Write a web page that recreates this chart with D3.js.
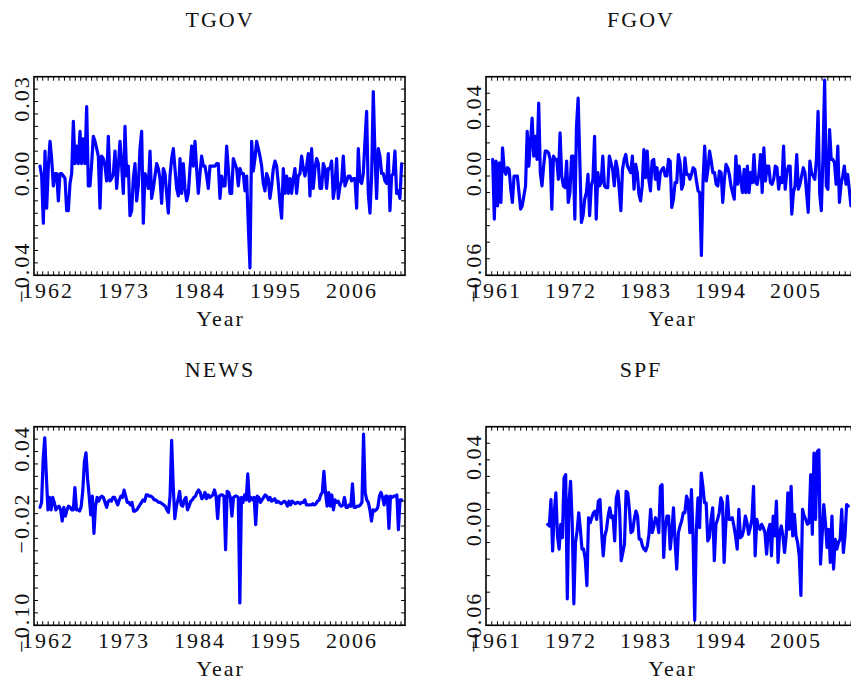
<!DOCTYPE html>
<html>
<head>
<meta charset="utf-8">
<script src="https://cdn.jsdelivr.net/npm/d3@7/dist/d3.min.js"></script>
<style>
  html, body { margin: 0; padding: 0; background: #ffffff; }
  svg { display: block; }
  text { font-family: "Liberation Serif", "Times New Roman", serif; font-size: 22px; letter-spacing: 2px; fill: #111; }
</style>
</head>
<body>
<svg id="chart" width="851" height="682"></svg>
<script>
// Quarterly shock series, evenly spaced over each sample span
const tgov = [
  .004,0,-.019,.010,-.013,.004,.014,.007,-.004,.001,.001,-.010,.001,.001,0,-.001,-.014,-.014,-.003,.001,
  .022,.005,.012,.005,.018,.005,.015,.005,.028,-.004,-.004,.005,.016,.014,.011,.008,-.013,.008,.007,.004,
  -.002,.016,-.002,-.001,.001,.010,-.005,.004,.014,.004,-.007,.020,0,.004,-.016,-.014,-.001,.005,-.010,-.004,
  .011,.018,-.019,.001,-.001,-.005,.010,-.009,-.005,0,.005,.003,-.001,-.011,.003,.001,-.007,-.015,0,.007,
  .011,.003,-.005,-.008,.007,-.007,.005,-.005,-.010,-.007,.003,.012,.004,.014,.003,-.007,.001,.008,.004,.004,
  0,-.005,.004,.004,.004,.004,.005,.005,-.009,0,-.004,-.004,.012,.003,-.007,-.007,.007,.005,.003,-.004,
  .003,.001,.001,-.006,0,-.020,-.037,.014,.002,.007,.014,.011,.008,.004,-.003,-.006,.001,-.001,-.009,-.004,
  .003,.006,.004,-.003,-.011,-.017,.003,-.007,0,-.007,-.001,-.007,-.001,.003,-.007,0,.001,.008,.003,0,
  .004,.009,-.008,.011,-.005,.003,.007,.005,-.005,-.005,.005,.003,-.005,.003,.003,.006,-.009,-.004,.007,-.009,
  -.004,-.002,.008,-.004,-.002,0,0,-.002,-.001,-.001,-.013,.011,-.002,-.003,.001,.014,.026,-.007,-.015,0,
  .034,.009,-.009,.011,.008,.001,.001,-.002,-.003,.009,-.014,0,.001,.010,-.007,-.006,-.009,.005
];

const fgov = [
  .010,-.026,.009,-.018,.008,-.016,.017,.004,.001,.005,.004,-.008,-.016,0,0,0,-.010,-.020,-.018,-.012,
  -.006,.027,.006,.020,.035,.012,.024,.010,.044,.002,-.006,.006,.015,.015,.014,.010,-.020,.012,.010,.010,
  -.002,.026,0,-.006,-.007,.009,-.016,-.010,.012,.012,-.026,.030,.047,.010,-.028,-.024,-.014,-.010,.001,-.024,
  -.006,-.002,.024,-.026,.002,-.006,-.004,.012,-.006,-.007,-.007,.012,.008,.004,-.006,.009,.004,-.008,-.021,.004,
  .010,.013,.006,.004,.002,.012,-.008,.007,.002,-.011,-.015,-.006,.016,-.001,.015,-.002,-.009,.009,.010,-.002,
  .005,-.008,.002,.004,.005,0,0,.010,.009,-.019,-.014,-.004,-.004,.013,.008,-.008,-.005,.011,.001,.001,
  -.002,.001,.005,.004,-.003,-.009,-.010,-.048,-.003,.018,-.003,.004,.015,.009,.002,.002,-.005,-.006,.003,.002,
  -.016,-.002,.007,.005,.001,-.006,-.010,-.014,.012,-.005,.006,-.003,-.010,.004,-.010,.006,-.010,.002,-.004,.013,
  -.004,-.005,.001,.013,-.010,.017,-.003,.006,.006,-.004,-.005,-.002,.006,.005,-.008,-.001,-.004,.018,-.008,.002,
  .006,.006,-.023,-.010,-.006,.013,-.008,-.005,0,.005,.002,-.010,-.022,.009,.002,0,-.002,.010,.039,-.011,
  -.021,.012,.058,-.006,-.008,.028,.010,.010,.008,-.005,.018,-.016,-.005,0,.006,-.005,.001,-.008,-.018
];

const news = [
  -.005,-.001,.034,.051,.020,-.007,.003,-.007,.003,-.001,-.007,-.005,-.004,-.007,-.016,-.005,-.012,-.007,-.004,-.005,
  -.007,-.007,.011,-.007,-.007,-.008,-.004,.009,.032,.039,.018,.004,-.011,.004,-.026,-.004,.003,0,.003,.004,
  .003,-.001,-.005,0,.001,0,.003,.003,0,-.003,.001,.004,.003,.009,.004,-.001,-.001,-.003,-.001,-.008,
  -.008,-.007,-.005,-.003,-.001,.001,0,.005,.005,.004,.004,.003,.001,.001,0,-.001,-.001,-.002,-.003,-.004,
  -.007,-.009,.004,.049,.012,-.014,-.004,.001,.008,-.003,-.004,.001,.003,-.007,-.004,0,.001,.003,.004,.007,
  .009,.007,.002,.003,.007,.002,.005,.003,.004,.005,.009,.004,-.014,.004,.005,.005,.004,-.039,.008,.007,
  .003,-.012,.003,.004,.004,.003,-.082,.003,-.001,.005,.001,.022,0,.003,.001,.003,-.019,.004,.003,-.001,
  .001,.003,.005,.004,.001,.003,0,.001,.002,-.001,0,-.001,-.002,-.001,0,-.001,-.004,0,-.003,0,
  -.001,-.002,-.001,-.001,-.002,-.001,-.001,.001,-.003,-.003,-.003,-.003,-.002,-.003,-.002,0,.001,.005,.007,.024,
  .007,-.004,.007,-.004,.005,-.007,.001,-.001,0,-.003,-.004,-.003,.003,-.005,-.005,-.003,-.004,.014,-.005,-.005,
  -.004,-.004,-.003,-.001,.054,.007,.001,-.001,-.007,-.016,-.007,-.008,-.007,-.005,.004,.007,.003,-.003,.004,.004,
  -.022,.004,.003,.004,.004,.005,-.023,.001,.001
];

const spf = [
  .001,0,.016,-.015,.008,.020,-.006,-.014,.001,-.007,.029,.031,-.044,.014,.027,.002,-.047,-.010,-.003,.008,
  -.002,-.014,-.014,-.020,-.036,.005,.002,.005,.008,.009,.004,.015,.016,-.004,-.018,-.006,-.002,.006,.011,.005,
  .006,-.009,.017,.021,.010,-.021,-.016,-.011,.021,.020,.010,-.004,-.003,.004,.009,.006,-.008,-.008,-.012,-.014,
  -.015,-.012,-.005,.010,-.004,0,.005,.003,-.004,.024,.025,-.019,-.001,.006,.006,-.014,-.004,.011,-.010,-.026,
  -.004,0,.003,.008,.008,.018,.015,-.004,.022,-.008,-.057,-.002,.017,-.001,.032,.024,.014,.014,-.009,-.007,
  .004,.011,-.021,.001,.004,.008,.017,.014,-.022,0,.018,.004,.004,.005,0,-.006,-.014,.010,-.007,-.006,
  -.002,.006,.002,-.005,-.001,.004,.024,-.018,.004,-.001,-.002,.001,-.001,-.004,-.017,-.003,.001,-.018,.006,-.006,
  .015,-.022,-.004,0,-.006,-.016,-.006,.020,-.002,.024,-.006,.007,-.006,-.010,-.018,-.042,.010,.006,.004,.001,
  .002,.031,-.005,.044,.004,.045,.046,-.023,-.006,.013,.002,-.013,-.002,-.022,.006,-.026,-.008,-.014,-.010,-.008,
  .010,-.016,-.006,.013,.012
];

// First and last observation of each sample, in decimal years
const tgovSpan = [1960.99, 2013.33];
const fgovSpan = [1960.66, 2013.21];
const newsSpan = [1960.99, 2013.33];
const spfSpan  = [1968.73, 2012.82];

// Year tick labels
const yearLabelsLeft  = [1962, 1973, 1984, 1995, 2006];
const yearLabelsRight = [1961, 1972, 1983, 1994, 2005];

// Value labels on the vertical axes
const tgovYLabels = [[0.03, "0.03"], [0, "0.00"], [-0.04, "\u22120.04"]];
const fgovYLabels = [[0.04, "0.04"], [0, "0.00"], [-0.06, "\u22120.06"]];
const newsYLabels = [[0.04, "0.04"], [-0.02, "\u22120.02"], [-0.10, "\u22120.10"]];
const spfYLabels  = [[0.04, "0.04"], [0, "0.00"], [-0.06, "\u22120.06"]];

// ---- layout ----
const BOX_W = 371, BOX_H = 198.6, TICK = 4;
const LINE_COLOR = "#0000ff";

const panels = [
  { title: "TGOV", values: tgov, span: tgovSpan, left: 34,  top: 76.7,
    xDomain: [1960.12, 2013.82], years: yearLabelsLeft, xMinorStart: 1960.6, xMinorStep: 11 / 14,
    yDomain: [-0.04, 0.04], yStep: 0.005, yLabels: tgovYLabels, titleX: 219 },
  { title: "FGOV", values: fgov, span: fgovSpan, left: 486, top: 76.7,
    xDomain: [1959.68, 2014.1], years: yearLabelsRight, xMinorStart: 1960.52, xMinorStep: 0.85,
    yDomain: [-0.06, 0.06], yStep: 0.01, yLabels: fgovYLabels, titleX: 640 },
  { title: "NEWS", values: news, span: newsSpan, left: 34,  top: 426.7,
    xDomain: [1960.12, 2013.82], years: yearLabelsLeft, xMinorStart: 1960.6, xMinorStep: 11 / 14,
    yDomain: [-0.10, 0.06], yStep: 0.01, yLabels: newsYLabels, titleX: 219 },
  { title: "SPF", values: spf, span: spfSpan, left: 486, top: 426.7,
    xDomain: [1959.68, 2014.1], years: yearLabelsRight, xMinorStart: 1960.52, xMinorStep: 0.85,
    yDomain: [-0.06, 0.06], yStep: 0.01, yLabels: spfYLabels, titleX: 640 }
];

const svg = d3.select("#chart");

function stepValues(lo, hi, step) {
  const k0 = Math.ceil(lo / step - 1e-9), k1 = Math.floor(hi / step + 1e-9);
  return d3.range(k0, k1 + 1).map(k => +(k * step).toFixed(6));
}

panels.forEach((p, idx) => {
  const x = d3.scaleLinear().domain(p.xDomain).range([p.left, p.left + BOX_W]);
  const y = d3.scaleLinear().domain(p.yDomain).range([p.top + BOX_H, p.top]);
  const g = svg.append("g");
  const bottom = p.top + BOX_H, right = p.left + BOX_W;

  // clip region for the series line
  const clipId = "clip" + idx;
  svg.append("clipPath").attr("id", clipId)
    .append("rect").attr("x", p.left).attr("y", p.top).attr("width", BOX_W).attr("height", BOX_H);

  const n = p.values.length;
  const pts = p.values.map((v, i) => ({ t: p.span[0] + i * (p.span[1] - p.span[0]) / (n - 1), v }));
  const line = d3.line().x(d => x(d.t)).y(d => y(d.v));
  g.append("path")
    .datum(pts)
    .attr("clip-path", `url(#${clipId})`)
    .attr("d", line)
    .attr("fill", "none")
    .attr("stroke", LINE_COLOR)
    .attr("stroke-width", 3.2)
    .attr("stroke-linejoin", "round")
    .attr("stroke-linecap", "round");

  // frame
  g.append("rect")
    .attr("x", p.left).attr("y", p.top).attr("width", BOX_W).attr("height", BOX_H)
    .attr("fill", "none").attr("stroke", "#000").attr("stroke-width", 1.6);

  // horizontal-axis minor ticks (bottom and top, inward)
  const xt = d3.range(p.xMinorStart, p.xDomain[1], p.xMinorStep);
  g.selectAll(null).data(xt).enter().append("line")
    .attr("x1", d => x(d)).attr("x2", d => x(d))
    .attr("y1", bottom).attr("y2", bottom - TICK)
    .attr("stroke", "#000").attr("stroke-width", 1);
  g.selectAll(null).data(xt).enter().append("line")
    .attr("x1", d => x(d)).attr("x2", d => x(d))
    .attr("y1", p.top).attr("y2", p.top + TICK)
    .attr("stroke", "#000").attr("stroke-width", 1);

  // vertical-axis ticks (left and right, inward)
  const yt = stepValues(p.yDomain[0], p.yDomain[1], p.yStep);
  g.selectAll(null).data(yt).enter().append("line")
    .attr("x1", p.left).attr("x2", p.left + TICK)
    .attr("y1", d => y(d)).attr("y2", d => y(d))
    .attr("stroke", "#000").attr("stroke-width", 1);
  g.selectAll(null).data(yt).enter().append("line")
    .attr("x1", right).attr("x2", right - TICK)
    .attr("y1", d => y(d)).attr("y2", d => y(d))
    .attr("stroke", "#000").attr("stroke-width", 1);

  // year labels
  g.selectAll(null).data(p.years).enter().append("text")
    .attr("x", d => x(d) + 1).attr("y", bottom + 23)
    .attr("text-anchor", "middle")
    .text(d => d);

  // rotated value labels
  g.selectAll(null).data(p.yLabels).enter().append("text")
    .attr("transform", d => `translate(${p.left - 5},${y(d[0]) - 3}) rotate(-90)`)
    .attr("text-anchor", "middle")
    .text(d => d[1]);

  // axis title and panel title
  g.append("text")
    .attr("x", p.left + BOX_W / 2 + 1).attr("y", bottom + 51)
    .attr("text-anchor", "middle").text("Year");
  g.append("text")
    .attr("x", p.titleX + 1).attr("y", p.top - 50)
    .attr("text-anchor", "middle").text(p.title);
});
</script>
</body>
</html>
